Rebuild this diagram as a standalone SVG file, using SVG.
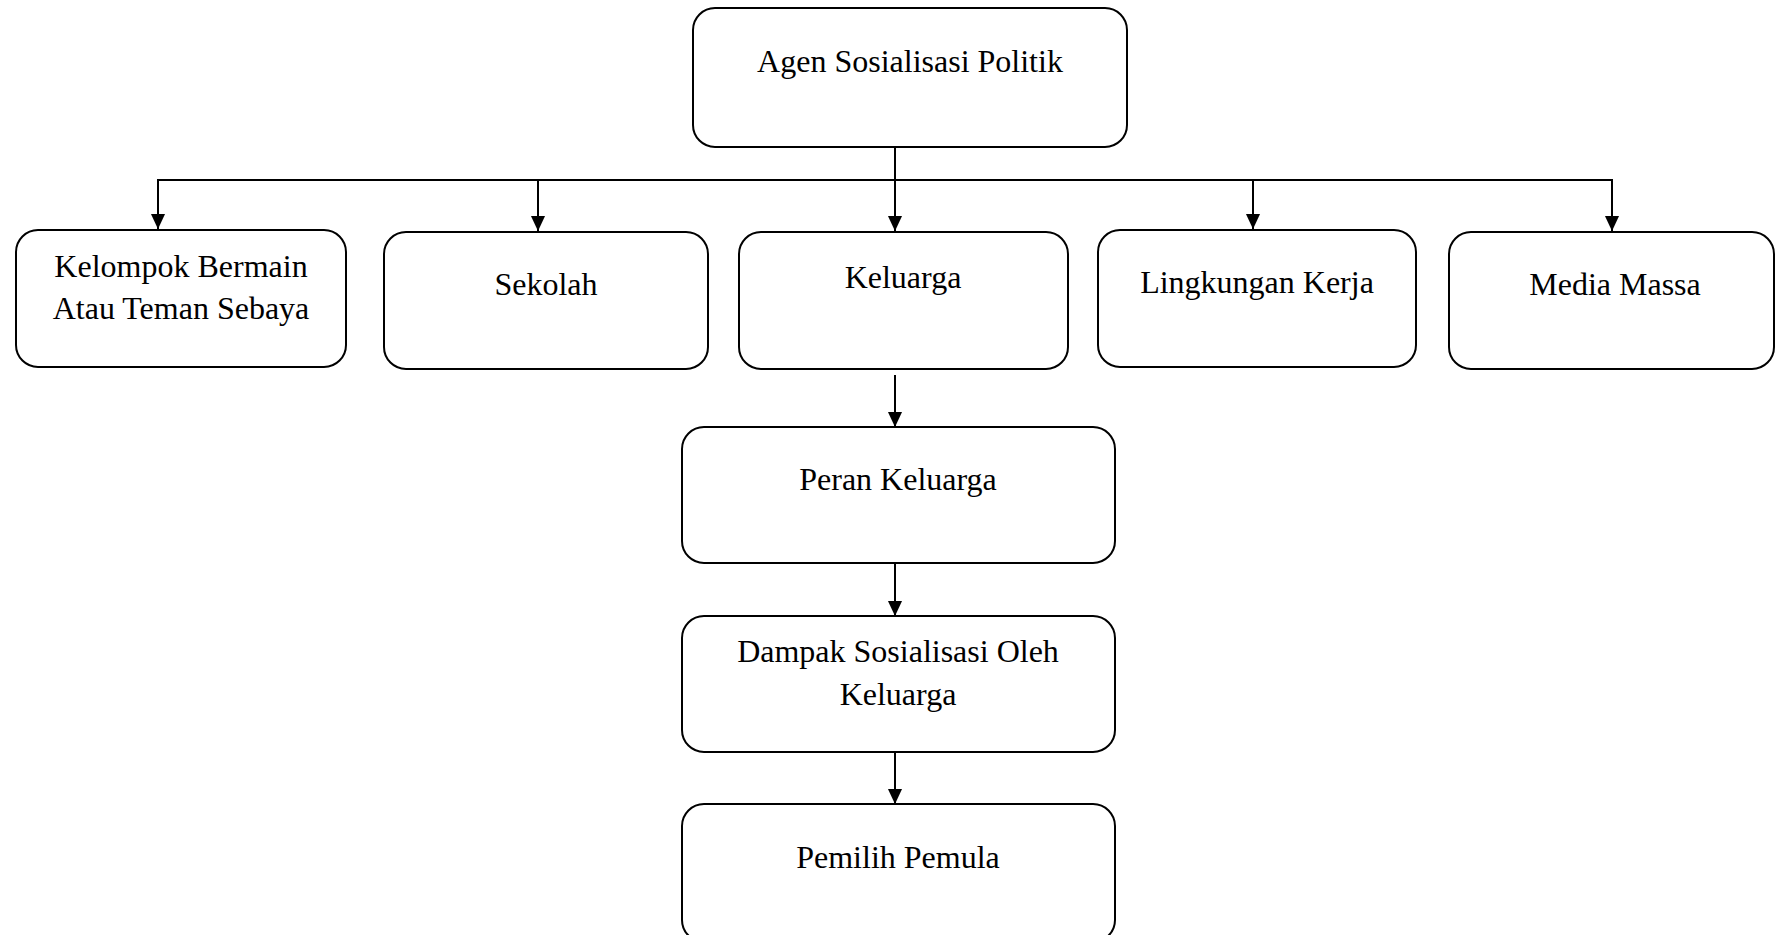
<svg xmlns="http://www.w3.org/2000/svg" width="1775" height="935" viewBox="0 0 1775 935">
<style>
.box{fill:#fff;stroke:#000;stroke-width:2}
.t{font-family:"Liberation Serif","Times New Roman",serif;font-size:32px;fill:#000;text-anchor:middle}
.c{fill:none;stroke:#000;stroke-width:2}
</style>
<defs>
<marker id="ah" markerUnits="userSpaceOnUse" markerWidth="15" markerHeight="16" refX="16" refY="7.5" orient="auto" viewBox="0 0 16 15">
<path d="M0,0 L16,7.5 L0,15 Z" fill="#000"/>
</marker>
</defs>
<rect width="1775" height="935" fill="#fff"/>
<g id="connectors">
<line class="c" x1="895" y1="147" x2="895" y2="231" marker-end="url(#ah)"/>
<line class="c" x1="157" y1="180" x2="1613" y2="180"/>
<line class="c" x1="158" y1="180" x2="158" y2="229" marker-end="url(#ah)"/>
<line class="c" x1="538" y1="180" x2="538" y2="231" marker-end="url(#ah)"/>
<line class="c" x1="1253" y1="180" x2="1253" y2="229" marker-end="url(#ah)"/>
<line class="c" x1="1612" y1="180" x2="1612" y2="231" marker-end="url(#ah)"/>
<line class="c" x1="895" y1="375" x2="895" y2="427" marker-end="url(#ah)"/>
<line class="c" x1="895" y1="563" x2="895" y2="616" marker-end="url(#ah)"/>
<line class="c" x1="895" y1="752" x2="895" y2="804" marker-end="url(#ah)"/>
</g>
<g id="agen">
<rect class="box" x="693" y="8" width="434" height="139" rx="22"/>
<text class="t" x="910" y="72">Agen Sosialisasi Politik</text>
</g>
<g id="kelompok">
<rect class="box" x="16" y="230" width="330" height="137" rx="22"/>
<text class="t" x="181" y="277">Kelompok Bermain</text>
<text class="t" x="181" y="319">Atau Teman Sebaya</text>
</g>
<g id="sekolah">
<rect class="box" x="384" y="232" width="324" height="137" rx="22"/>
<text class="t" x="546" y="295">Sekolah</text>
</g>
<g id="keluarga">
<rect class="box" x="739" y="232" width="329" height="137" rx="22"/>
<text class="t" x="903" y="288">Keluarga</text>
</g>
<g id="lingkungan">
<rect class="box" x="1098" y="230" width="318" height="137" rx="22"/>
<text class="t" x="1257" y="293">Lingkungan Kerja</text>
</g>
<g id="media">
<rect class="box" x="1449" y="232" width="325" height="137" rx="22"/>
<text class="t" x="1615" y="295">Media Massa</text>
</g>
<g id="peran">
<rect class="box" x="682" y="427" width="433" height="136" rx="22"/>
<text class="t" x="898" y="490">Peran Keluarga</text>
</g>
<g id="dampak">
<rect class="box" x="682" y="616" width="433" height="136" rx="22"/>
<text class="t" x="898" y="662">Dampak Sosialisasi Oleh</text>
<text class="t" x="898" y="705">Keluarga</text>
</g>
<g id="pemilih">
<rect class="box" x="682" y="804" width="433" height="138" rx="22"/>
<text class="t" x="898" y="868">Pemilih Pemula</text>
</g>
</svg>
